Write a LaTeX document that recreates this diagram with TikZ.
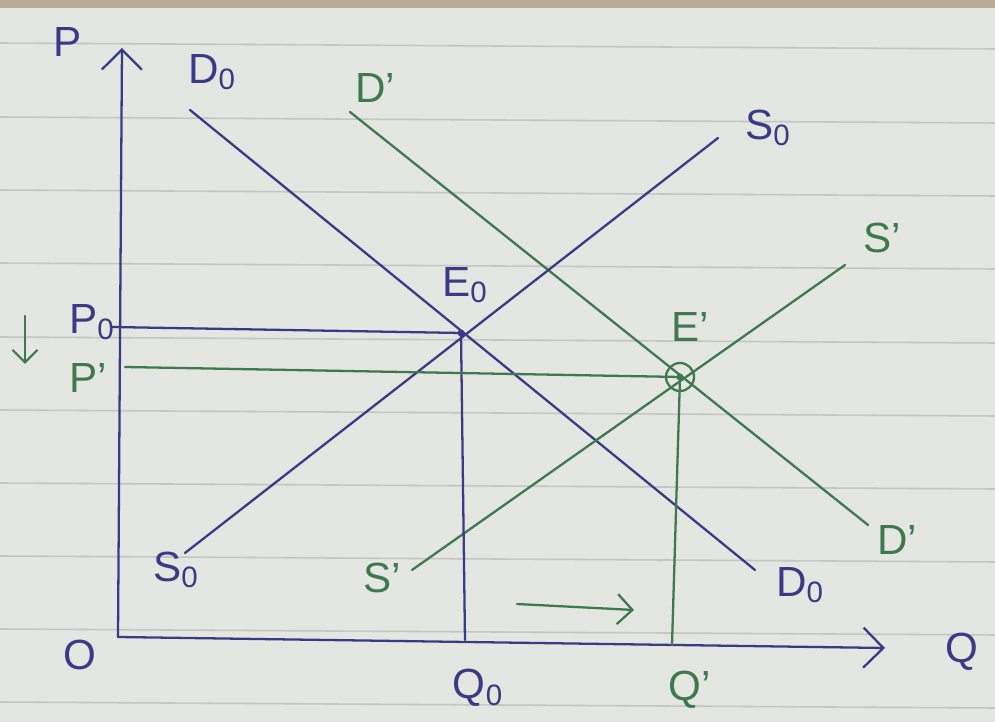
\documentclass[tikz,border=0pt]{standalone}
\usepackage{fontspec}
\setmainfont{Liberation Sans}
\usetikzlibrary{arrows.meta}
\definecolor{paper}{HTML}{E4E6E1}
\definecolor{rulecol}{HTML}{C4C6C2}
\definecolor{inkb}{HTML}{3C3A86}
\definecolor{inkg}{HTML}{3E7A4E}
\tikzset{
  blueline/.style={draw=inkb, line width=1.3pt, line cap=round},
  greenline/.style={draw=inkg, line width=1.3pt, line cap=round},
  bluelab/.style={text=inkb, font=\fontsize{24}{26}\selectfont, inner sep=0pt},
  greenlab/.style={text=inkg, font=\fontsize{24}{26}\selectfont, inner sep=0pt},
  rulestyle/.style={draw=rulecol, line width=0.9pt},
  barb/.style={-{Straight Barb[length=4mm,width=8mm,line width=1.3pt]}}
}
\begin{document}
\begin{tikzpicture}[x=0.02cm,y=-0.02cm]
\fill[paper] (0,0) rectangle (995,722);
\useasboundingbox (0,0) rectangle (995,722);
\fill[black!35!brown!40!paper] (0,0) rectangle (995,8);
\foreach \yy in {43,117,190,263,337,410,483,556,629,702}
  \draw[rulestyle] (0,\yy) -- (995,\yy+6);

% axes
\coordinate (O) at (118,637);
\coordinate (Ytop) at (122,48);
\coordinate (Xend) at (885,648);
\draw[blueline, barb] (O) -- (Ytop);
\draw[blueline, barb] (O) -- (Xend);
\node[bluelab] (Plab) at (68,42) {P};
\node[bluelab] (Olab) at (80,655) {O};
\node[bluelab] (Qlab) at (962,652) {Q};

% curves endpoints
\coordinate (D0a) at (190,110); \coordinate (D0b) at (755,570);
\coordinate (Dpa) at (350,112); \coordinate (Dpb) at (868,525);
\coordinate (S0a) at (185,553); \coordinate (S0b) at (718,138);
\coordinate (Spa) at (412,570); \coordinate (Spb) at (845,265);

\draw[blueline] (D0a) -- (D0b);
\draw[greenline] (Dpa) -- (Dpb);
\draw[blueline] (S0a) -- (S0b);
\draw[greenline] (Spa) -- (Spb);

\node[bluelab] (D0top) at (212,72) {D\textsubscript{0}};
\node[bluelab] (D0bot) at (800,585) {D\textsubscript{0}};
\node[greenlab] (Dptop) at (375,88) {D'};
\node[greenlab] (Dpbot) at (897,540) {D'};
\node[bluelab] (S0bot) at (176,570) {S\textsubscript{0}};
\node[bluelab] (S0top) at (768,128) {S\textsubscript{0}};
\node[greenlab] (Spbot) at (382,578) {S'};
\node[greenlab] (Sptop) at (882,238) {S'};

% equilibria
\coordinate (E0) at (461,333);
\coordinate (Ep) at (680,377);
\fill[inkb] (E0) circle (3.5);
\fill[inkg] (Ep) circle (3.5);
\draw[greenline] (Ep) circle (14);
\node[bluelab] (E0lab) at (465,285) {E\textsubscript{0}};
\node[greenlab] (Eplab) at (690,327) {E'};

\coordinate (P0) at (112,327);
\coordinate (Pp) at (125,367);
\coordinate (Q0) at (465,640);
\coordinate (Qp) at (672,645);
\draw[blueline] (P0) -- (E0) -- (Q0);
\draw[greenline] (Pp) -- (Ep) -- (Qp);
\node[bluelab] (P0lab) at (92,322) {P\textsubscript{0}};
\node[greenlab] (Pplab) at (88,378) {P'};
\node[bluelab] (Q0lab) at (478,688) {Q\textsubscript{0}};
\node[greenlab] (Qplab) at (690,690) {Q'};

% shift arrows
\coordinate (Da) at (25,316); \coordinate (Db) at (25,364);
\draw[greenline, -{Straight Barb[length=2.5mm,width=5mm,line width=1.3pt]}] (Da) -- (Db);
\coordinate (Ra) at (517,604); \coordinate (Rb) at (634,610);
\draw[greenline, -{Straight Barb[length=3mm,width=6mm,line width=1.3pt]}] (Ra) -- (Rb);
\end{tikzpicture}
\end{document}
